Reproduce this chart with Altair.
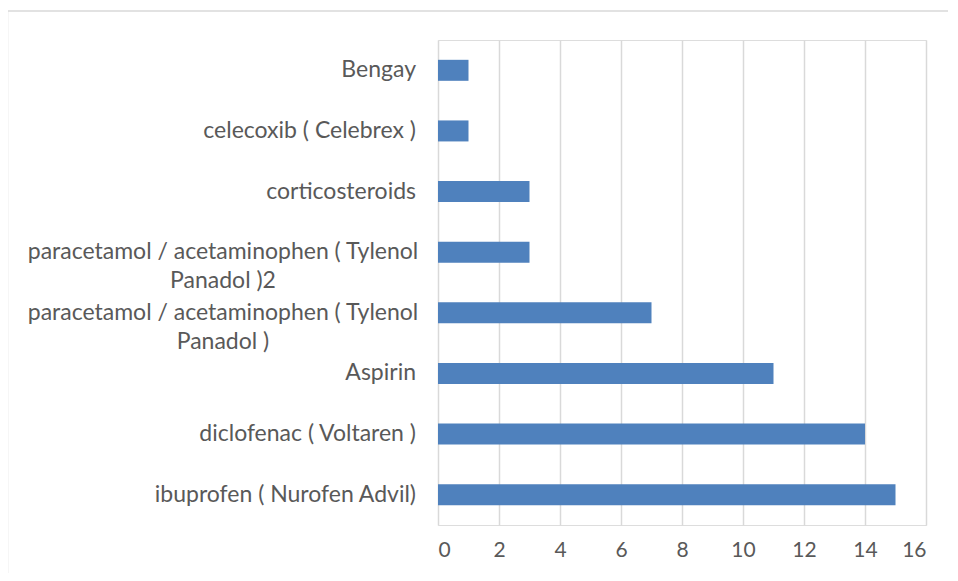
import altair as alt
import pandas as pd

categories = [
    "Bengay",
    "celecoxib ( Celebrex )",
    "corticosteroids",
    "paracetamol / acetaminophen ( Tylenol\nPanadol )2",
    "paracetamol / acetaminophen ( Tylenol\nPanadol )",
    "Aspirin",
    "diclofenac ( Voltaren )",
    "ibuprofen ( Nurofen Advil)",
]
values = [1, 1, 3, 3, 7, 11, 14, 15]
x_ticks = [0, 2, 4, 6, 8, 10, 12, 14, 16]

df = pd.DataFrame({"cat": categories, "val": values})
df["multi"] = df["cat"].str.contains("\n")

FONT = "Lato"
TXT = "#595959"
GRID = "#d9d9d9"

y_enc = alt.Y("cat:N", sort=categories, axis=None,
              scale=alt.Scale(paddingInner=0, paddingOuter=0))

bars = alt.Chart(df).mark_bar(size=21, color="#4f81bd").encode(
    x=alt.X("val:Q",
            scale=alt.Scale(domain=[0, 16], nice=False),
            axis=alt.Axis(values=x_ticks, title=None, grid=True, gridColor=GRID,
                          gridWidth=1.5, domain=False, ticks=False,
                          labelFont=FONT, labelFontSize=21, labelColor=TXT,
                          labelPadding=14)),
    y=y_enc,
)

single_labels = alt.Chart(df).transform_filter("!datum.multi").mark_text(
    align="right", baseline="middle", font=FONT, fontSize=23, color=TXT,
    dx=-22, x=0,
).encode(y=y_enc, text="cat:N")

multi_labels = alt.Chart(df).transform_filter("datum.multi").mark_text(
    align="center", baseline="middle", font=FONT, fontSize=23, color=TXT,
    lineBreak="\n", lineHeight=29, x=-215,
).encode(y=y_enc, text="cat:N")

frame = alt.Chart(pd.DataFrame({"a": [0]})).mark_rect(
    fillOpacity=0, stroke=GRID, strokeWidth=1.5
).encode(
    x=alt.value(-430.5), x2=alt.value(700), y=alt.value(-29), y2=alt.value(700)
)

chart = alt.layer(frame, bars, single_labels, multi_labels).properties(
    width=488, height=485,
    autosize=alt.AutoSizeParams(type="none"),
    padding={"left": 430, "top": 32, "right": 22, "bottom": 48},
).configure_view(stroke=None).configure(background="white")

chart.save("out.html", embed_options={"renderer": "svg", "actions": False})
